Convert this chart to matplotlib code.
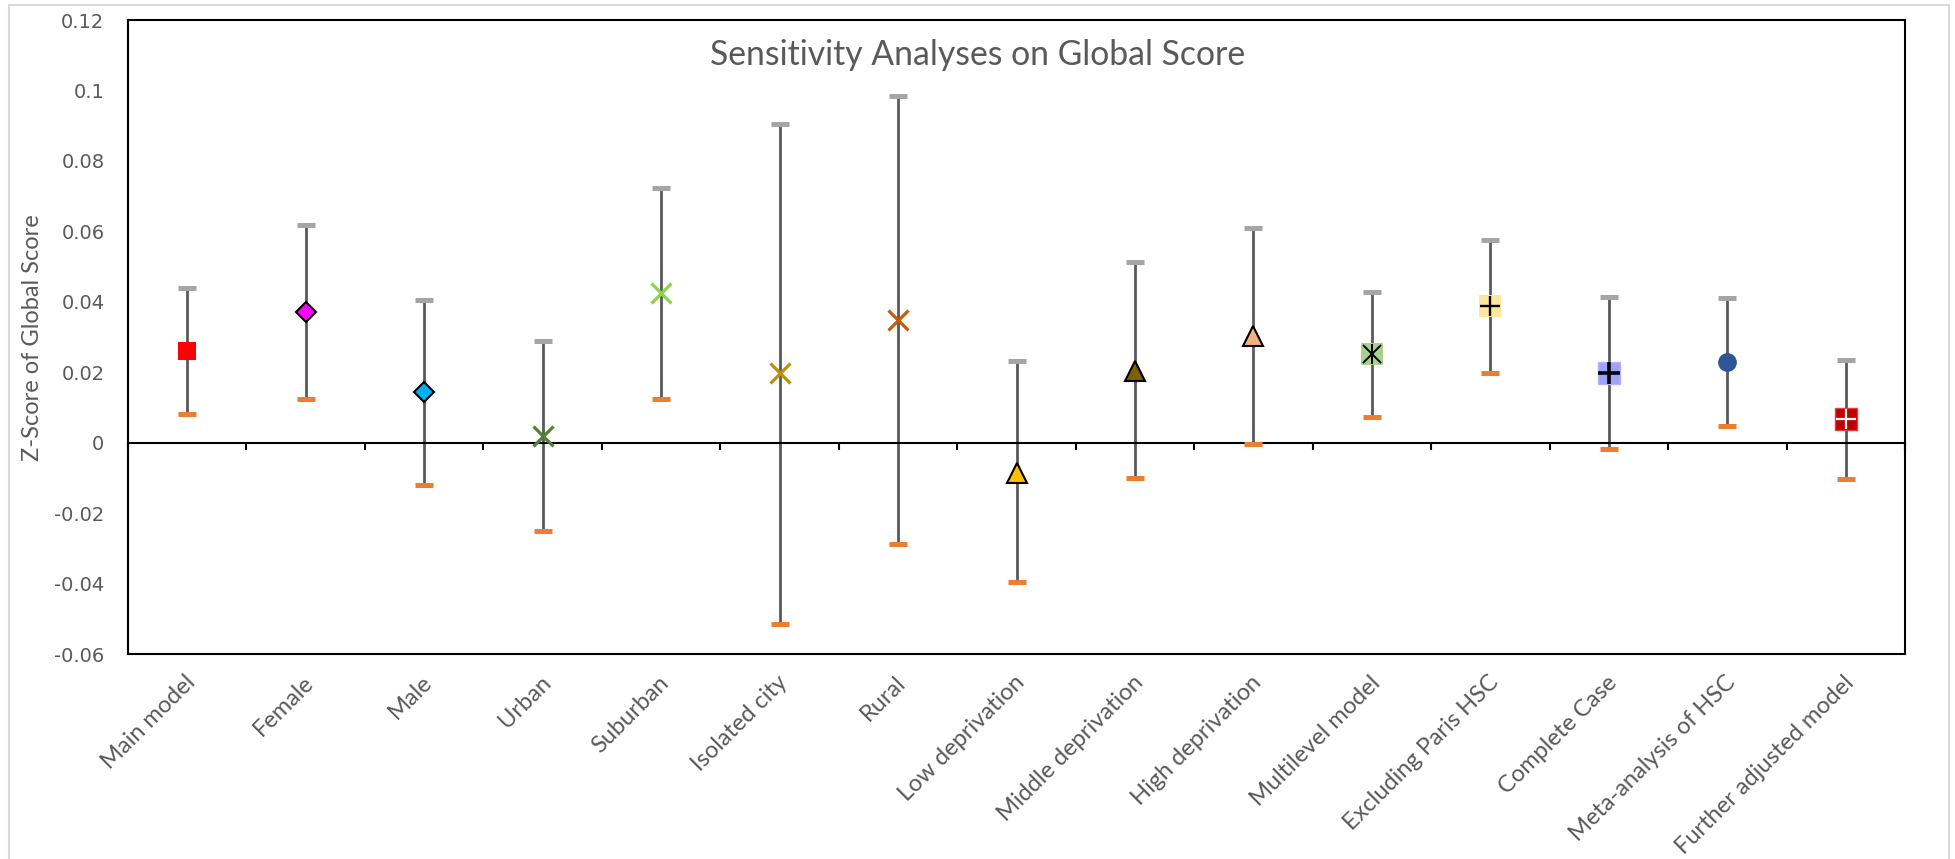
import matplotlib
matplotlib.use('Agg')
import matplotlib.pyplot as plt
import matplotlib.transforms as mtransforms
from matplotlib.patches import Rectangle

# Data
categories = ['Main model', 'Female', 'Male', 'Urban', 'Suburban', 'Isolated city',
              'Rural', 'Low deprivation', 'Middle deprivation', 'High deprivation',
              'Multilevel model', 'Excluding Paris HSC', 'Complete Case',
              'Meta-analysis of HSC', 'Further adjusted model']
estimates = [0.0261, 0.0372, 0.0143, 0.0018, 0.0425, 0.0199, 0.0348, -0.0085,
             0.0203, 0.0304, 0.0252, 0.0387, 0.0198, 0.0230, 0.0066]
upper = [0.0439, 0.0617, 0.0404, 0.0288, 0.0722, 0.0906, 0.0984, 0.0233,
         0.0513, 0.0609, 0.0429, 0.0574, 0.0414, 0.0412, 0.0235]
lower = [0.0082, 0.0123, -0.0119, -0.0252, 0.0125, -0.0515, -0.0287, -0.0395,
         -0.0101, -0.0005, 0.0074, 0.0197, -0.0019, 0.0047, -0.0103]
y_ticks = [-0.06, -0.04, -0.02, 0, 0.02, 0.04, 0.06, 0.08, 0.1, 0.12]
y_tick_labels = ['-0.06', '-0.04', '-0.02', '0', '0.02', '0.04', '0.06', '0.08', '0.1', '0.12']

# Marker styles (one per category) and optional overlay glyphs
styles = [
    dict(marker='s', ms=13.5, mfc='#FF0000', mec='#FF0000', mew=0),
    dict(marker='D', ms=10.5, mfc='#FF00FF', mec='black', mew=1.5),
    dict(marker='D', ms=10.5, mfc='#00B0F0', mec='black', mew=1.5),
    dict(marker='x', ms=15, mec='#548235', mew=2.3),
    dict(marker='x', ms=15, mec='#92D050', mew=2.3),
    dict(marker='x', ms=15, mec='#BF9000', mew=2.3),
    dict(marker='x', ms=15, mec='#C55A11', mew=2.3),
    dict(marker='^', ms=15, mfc='#FFC000', mec='black', mew=1.5),
    dict(marker='^', ms=15, mfc='#7F6000', mec='black', mew=1.5),
    dict(marker='^', ms=15, mfc='#F4B183', mec='black', mew=1.5),
    dict(marker='s', ms=16, mfc='#A9D18E', mec='#A9D18E', mew=0),
    dict(marker='s', ms=16, mfc='#FFE699', mec='#FFE699', mew=0),
    dict(marker='s', ms=16.5, mfc='#A0A0FF', mec='#B4B4FF', mew=1),
    dict(marker='o', ms=13.5, mfc='#2F5597', mec='#2F5597', mew=0),
    dict(marker='s', ms=16, mfc='#C00000', mec='#E04040', mew=1),
]
overlays = [
    [], [], [], [], [], [], [], [], [], [],
    [dict(marker='x', ms=13, mec='black', mew=1.4), dict(marker='|', ms=15, mec='black', mew=1.4)],
    [dict(marker='+', ms=15, mec='black', mew=1.7)],
    [dict(marker='+', ms=16, mec='black', mew=2.6)],
    [],
    [dict(marker='+', ms=15, mec='white', mew=1.6)],
]

grey = '#595959'

fig = plt.figure(figsize=(19.55, 8.59), dpi=100)
ax = fig.add_axes([128 / 1955, 1 - 654 / 859, (1905 - 128) / 1955, (654 - 20) / 859])

x = list(range(1, len(categories) + 1))

# Error bars
ax.vlines(x, lower, upper, color=grey, lw=2, zorder=2)
ax.plot(x, upper, '_', ms=13, mew=3.6, color='#A5A5A5', zorder=3, linestyle='none')
ax.plot(x, lower, '_', ms=13, mew=3.6, color='#ED7D31', zorder=3, linestyle='none')

# Point estimates
for xi, yi, st, ov in zip(x, estimates, styles, overlays):
    ax.plot([xi], [yi], linestyle='none', zorder=4, **st)
    for o in ov:
        ax.plot([xi], [yi], linestyle='none', zorder=5, **o)

ax.set_xlim(0.5, len(categories) + 0.5)
ax.set_ylim(-0.06, 0.12)

# Axis at zero with category-boundary ticks
ax.spines['bottom'].set_position(('data', 0))
ax.spines['bottom'].set_linewidth(1.5)
for s in ['left', 'right', 'top']:
    ax.spines[s].set_linewidth(1.5)
ax.plot([0, 1], [0, 0], transform=ax.transAxes, color='black', lw=1.5, clip_on=False)
boundaries = [i + 0.5 for i in range(len(categories) + 1)]
ax.set_xticks(boundaries)
ax.set_xticklabels([])
ax.tick_params(axis='x', direction='out', length=5, width=1.5, color='black')

ax.set_yticks(y_ticks)
ax.set_yticklabels(y_tick_labels, fontsize=14, color=grey, family='DejaVu Sans')
ax.tick_params(axis='y', length=0, pad=17)

ax.set_ylabel('Z-Score of Global Score', fontsize=17, color=grey, family='Lato')
ax.yaxis.set_label_coords((33 - 128) / 1777, (654 - 338) / 634)
ax.yaxis.label.set_verticalalignment('center')

trans = mtransforms.blended_transform_factory(ax.transData, ax.transAxes)
for xi, name in zip(x, categories):
    ax.text(xi + 0.04, -0.04, name, transform=trans, rotation=45, rotation_mode='anchor',
            ha='right', va='center', fontsize=17, color=grey, family='Lato')

fig.text(978 / 1955, 1 - 55 / 859, 'Sensitivity Analyses on Global Score', ha='center', va='center',
         fontsize=24.3, color=grey, family='Lato')

# Light chart-area border
fig.add_artist(Rectangle((9 / 1955, -0.01), (1949 - 9) / 1955, 1.0042, transform=fig.transFigure,
                         fill=False, edgecolor='#D9D9D9', lw=1.5))

fig.savefig('out.png', dpi=100)
